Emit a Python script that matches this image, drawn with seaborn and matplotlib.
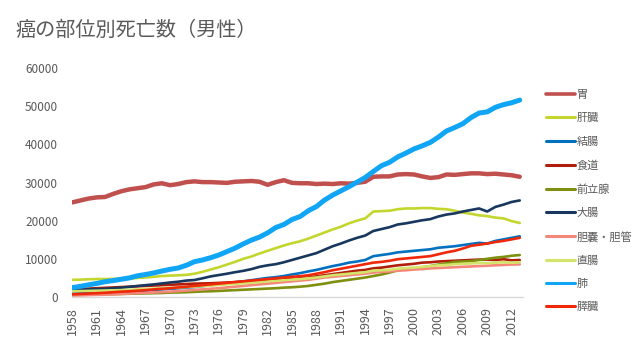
import numpy as np
import pandas as pd
import matplotlib
matplotlib.use("Agg")
import matplotlib.pyplot as plt
import seaborn as sns

years = list(range(1958, 2014))

stomach = [24800, 25300, 25800, 26100, 26200, 27000, 27700, 28200, 28500, 28800,
           29500, 29800, 29300, 29600, 30100, 30300, 30100, 30100, 30000, 29900,
           30200, 30300, 30400, 30200, 29400, 30100, 30600, 29900, 29800, 29800,
           29600, 29700, 29600, 29800, 29700, 29900, 30200, 31500, 31600, 31600,
           32100, 32200, 32100, 31600, 31200, 31400, 32100, 32000, 32200, 32400,
           32400, 32200, 32300, 32100, 31900, 31500]
liver = [4500, 4550, 4650, 4700, 4700, 4750, 4800, 4850, 5000, 5100,
         5300, 5500, 5600, 5700, 5800, 6100, 6600, 7200, 7800, 8500,
         9200, 10000, 10600, 11400, 12100, 12800, 13500, 14100, 14600, 15300,
         16100, 16900, 17700, 18400, 19300, 20000, 20600, 22400, 22500, 22600,
         23000, 23200, 23200, 23300, 23300, 23100, 23000, 22600, 22100, 21800,
         21400, 21200, 20800, 20600, 19900, 19400]
colon = [900, 950, 1000, 1050, 1100, 1200, 1300, 1400, 1550, 1700,
         1850, 2000, 2150, 2300, 2450, 2600, 2850, 3100, 3350, 3600,
         3850, 4100, 4400, 4700, 5000, 5200, 5500, 5900, 6250, 6700,
         7100, 7600, 8100, 8500, 9000, 9300, 9700, 10700, 11000, 11300,
         11700, 11900, 12100, 12300, 12500, 12900, 13100, 13300, 13600, 13900,
         14200, 14000, 14700, 15100, 15500, 15900]
esophagus = [2000, 2100, 2200, 2300, 2400, 2500, 2600, 2700, 2800, 2900,
             3000, 3100, 3200, 3300, 3400, 3500, 3550, 3600, 3700, 3800,
             3900, 4000, 4100, 4200, 4300, 4450, 4600, 4750, 4900, 5100,
             5400, 5700, 6000, 6300, 6600, 6900, 7100, 7500, 7700, 8000,
             8300, 8500, 8700, 9000, 9100, 9300, 9400, 9500, 9600, 9700,
             9800, 9800, 9700, 9900, 9600, 9700]
prostate = [500, 550, 600, 650, 700, 750, 800, 850, 900, 950,
            1000, 1050, 1150, 1200, 1250, 1350, 1450, 1500, 1600, 1700,
            1800, 1900, 2000, 2100, 2200, 2300, 2450, 2550, 2700, 2900,
            3200, 3500, 3900, 4200, 4500, 4800, 5100, 5500, 5900, 6400,
            7000, 7300, 7500, 7800, 8100, 8500, 8800, 9200, 9300, 9400,
            9700, 10000, 10300, 10500, 10800, 11000]
colorectal = [1850, 1900, 2000, 2100, 2150, 2300, 2450, 2650, 2900, 3100,
              3300, 3550, 3800, 4000, 4300, 4450, 4900, 5400, 5750, 6100,
              6500, 6850, 7300, 7900, 8300, 8600, 9100, 9700, 10300, 10900,
              11500, 12400, 13300, 14000, 14800, 15500, 16100, 17300, 17800, 18300,
              19000, 19300, 19700, 20100, 20400, 21100, 21600, 21900, 22400, 22800,
              23200, 22400, 23600, 24200, 24900, 25300]
gallbladder = [400, 450, 500, 550, 600, 700, 800, 900, 1000, 1100,
               1200, 1300, 1400, 1550, 1700, 1850, 2000, 2150, 2300, 2500,
               2700, 2900, 3100, 3300, 3500, 3700, 3900, 4100, 4300, 4500,
               4800, 5100, 5300, 5500, 5700, 5900, 6100, 6400, 6600, 6700,
               6900, 7000, 7200, 7300, 7500, 7600, 7700, 7800, 7900, 8000,
               8100, 8200, 8300, 8400, 8500, 8550]
rectum = [1500, 1550, 1600, 1650, 1700, 1750, 1800, 1900, 2000, 2100,
          2200, 2300, 2400, 2500, 2600, 2700, 2850, 3000, 3150, 3300,
          3450, 3600, 3750, 3900, 4100, 4250, 4400, 4550, 4700, 4900,
          5100, 5400, 5700, 5900, 6100, 6300, 6500, 6900, 7000, 7100,
          7400, 7600, 7700, 7900, 8100, 8300, 8400, 8600, 8700, 8800,
          8900, 8900, 9000, 9100, 9000, 9100]
lung = [2450, 2800, 3200, 3550, 4000, 4300, 4650, 5000, 5550, 5900,
        6300, 6800, 7250, 7600, 8300, 9250, 9700, 10300, 11000, 11900,
        12800, 13900, 14900, 15700, 16800, 18200, 19000, 20300, 21100, 22600,
        23700, 25400, 26700, 27800, 28900, 30100, 31300, 32900, 34400, 35300,
        36700, 37700, 38800, 39600, 40500, 41900, 43500, 44400, 45400, 47000,
        48200, 48500, 49700, 50400, 50900, 51600]
pancreas = [700, 800, 900, 1000, 1100, 1250, 1400, 1500, 1650, 1800,
            2000, 2150, 2300, 2500, 2700, 2900, 3100, 3300, 3500, 3700,
            3900, 4100, 4300, 4500, 4700, 4900, 5100, 5300, 5450, 5700,
            6100, 6500, 7000, 7400, 7800, 8200, 8600, 9000, 9200, 9500,
            9900, 10100, 10300, 10500, 10700, 11200, 11700, 12100, 12700, 13400,
            13700, 14000, 14400, 14700, 15100, 15500]

site_names = ["胃", "肝臓", "結腸", "食道", "前立腺", "大腸", "胆嚢・胆管", "直腸", "肺", "膵臓"]
site_values = [stomach, liver, colon, esophagus, prostate, colorectal,
               gallbladder, rectum, lung, pancreas]
colors = ["#C0504D", "#C3D62E", "#0070C0", "#B01E0A", "#7F8F10", "#17375E",
          "#F4877A", "#D4E36A", "#10A5F5", "#F0280A"]
widths = [3.2, 1.9, 1.9, 1.9, 1.9, 1.9, 1.9, 1.9, 3.6, 1.9]

year_labels = [str(y) for y in range(1958, 2014, 3)]

sns.set_style("white")
plt.rcParams["font.family"] = ["Noto Sans CJK JP", "DejaVu Sans"]

fig = plt.figure(figsize=(6.4, 3.46), dpi=100)
ax = fig.add_axes([72 / 640, 1 - 297 / 346, (523 - 72) / 640, (297 - 68) / 346])

for name, vals, c, w in zip(site_names, site_values, colors, widths):
    df = pd.DataFrame({"year": years, "deaths": vals})
    sns.lineplot(data=df, x="year", y="deaths", color=c, linewidth=w, ax=ax,
                 label=name, legend=False, solid_capstyle="round")

ax.set_xlim(1957.95, 2013.4)
ax.set_ylim(0, 60000)
ax.set_yticks(range(0, 60001, 10000))
ax.set_yticklabels([str(v) for v in range(0, 60001, 10000)])
ax.set_xticks(range(1958, 2014, 3))
ax.set_xticklabels(year_labels, rotation=90)
ax.set_xticks(np.arange(1958, 2014), minor=True)
ax.set_xlabel("")
ax.set_ylabel("")

for s in ["top", "right", "left"]:
    ax.spines[s].set_visible(False)
ax.spines["bottom"].set_color("#D9D9D9")
ax.spines["bottom"].set_linewidth(1.0)
ax.tick_params(axis="x", which="both", direction="out", length=5, width=0.8,
               color="#D9D9D9", labelcolor="#595959", labelsize=9, pad=2)
ax.tick_params(axis="y", length=0, labelcolor="#595959", labelsize=8.5, pad=10)
ax.grid(False)

fig.text(15 / 640, 1 - 30 / 346, "癌の部位別死亡数（男性）", fontsize=14.5,
         color="#595959", ha="left", va="center")

handles, labels = ax.get_legend_handles_labels()
leg = fig.legend(handles, labels, loc="upper left",
                 bbox_to_anchor=(536 / 640, 1 - 80 / 346), frameon=False,
                 fontsize=8, handlelength=2.6, handletextpad=0.15,
                 labelspacing=1.2, labelcolor="#595959")
for h in leg.get_lines():
    h.set_linewidth(2.2)
leg.get_lines()[0].set_linewidth(2.6)

fig.savefig("out.png", dpi=100)
